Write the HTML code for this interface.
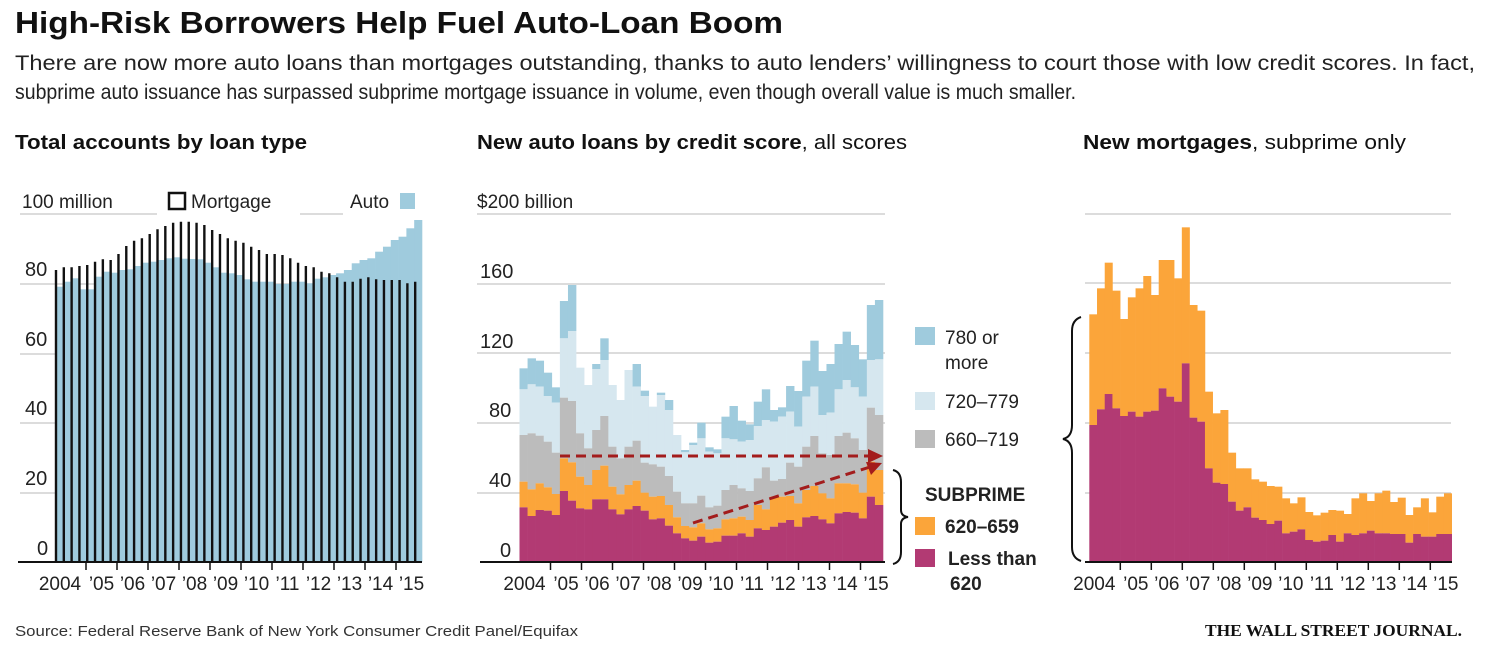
<!DOCTYPE html>
<html><head><meta charset="utf-8"><style>
body{margin:0;background:#fff;}
svg{display:block;font-family:"Liberation Sans",sans-serif;}
</style></head><body>
<svg id="s" width="1489" height="652" viewBox="0 0 1489 652" xmlns="http://www.w3.org/2000/svg">
<text x="15" y="33" font-size="31" font-weight="bold" textLength="768" lengthAdjust="spacingAndGlyphs" fill="#111">High-Risk Borrowers Help Fuel Auto-Loan Boom</text>
<text x="15" y="70" font-size="21" textLength="1460" lengthAdjust="spacingAndGlyphs" fill="#222">There are now more auto loans than mortgages outstanding, thanks to auto lenders’ willingness to court those with low credit scores. In fact,</text>
<text x="15" y="99" font-size="21" textLength="1061" lengthAdjust="spacingAndGlyphs" fill="#222">subprime auto issuance has surpassed subprime mortgage issuance in volume, even though overall value is much smaller.</text>
<text x="15" y="149" font-size="20" font-weight="bold" textLength="292" lengthAdjust="spacingAndGlyphs" fill="#111">Total accounts by loan type</text>
<text x="477" y="149" font-size="20" textLength="430" lengthAdjust="spacingAndGlyphs" fill="#111"><tspan font-weight="bold">New auto loans by credit score</tspan>, all scores</text>
<text x="1083" y="149" font-size="20" textLength="323" lengthAdjust="spacingAndGlyphs" fill="#111"><tspan font-weight="bold">New mortgages</tspan>, subprime only</text>
<text x="15" y="636" font-size="15" textLength="563" lengthAdjust="spacingAndGlyphs" fill="#333">Source: Federal Reserve Bank of New York Consumer Credit Panel/Equifax</text>
<text x="1205" y="636" font-size="17" font-weight="bold" font-family="Liberation Serif,serif" textLength="257" lengthAdjust="spacingAndGlyphs" fill="#111">THE WALL STREET JOURNAL.</text>
<g id="g"></g>
</svg>
<script>
var g=document.getElementById('g'),h='';
function R(x,y,w,hh,c){h+='<rect x="'+x+'" y="'+y+'" width="'+w+'" height="'+hh+'" fill="'+c+'"/>';}
function L(x1,y1,x2,y2,c,w,d){h+='<line x1="'+x1+'" y1="'+y1+'" x2="'+x2+'" y2="'+y2+'" stroke="'+c+'" stroke-width="'+w+'"'+(d?' stroke-dasharray="'+d+'"':'')+'/>';}
function T(x,y,s,sz,a,b){h+='<text x="'+x+'" y="'+y+'" font-size="'+(sz||19)+'" fill="#222"'+(a?' text-anchor="'+a+'"':'')+(b?' font-weight="bold"':'')+'>'+s+'</text>';}
var grid='#c8c8c8',BL='#9fcbdd',LB='#d6e7ef',GR='#bcbcbc',OR='#fba53a',PU='#b23a73';
var yrs=['2004','’05','’06','’07','’08','’09','’10','’11','’12','’13','’14','’15'];
[214,284,354,423,493].forEach(function(y,i){L(20,y,i==0?157:422,y,grid,1.3);});
L(300,214,343,214,grid,1.3);
[['80',276],['60',346],['40',415],['20',485],['0',555]].forEach(function(a){T(a[0]=='0'?37:25,a[1],a[0],20);});
T(22,208,'100 million',19);
h+='<rect x="169" y="193" width="16" height="16" fill="none" stroke="#111" stroke-width="2.5"/>';
T(191,208,'Mortgage',19);T(350,208,'Auto',19);R(400,193,15,16,BL);
var auto=[320,305,295,328,328,290,275,278,270,268,258,248,245,240,235,232,236,237,238,248,262,278,280,285,298,305,305,305,312,312,305,305,310,296,292,285,280,270,250,240,235,215,200,180,170,145,120];
var mort=[270,262,262,258,255,245,238,240,222,198,182,175,162,148,138,128,125,125,128,135,150,162,175,182,188,200,210,222,222,225,235,248,258,262,275,280,292,305,305,296,292,298,300,300,300,310,305];
var x0=55,bw=367/47;
auto.forEach(function(z,i){var y=180+z/3;R((x0+i*bw).toFixed(2),y.toFixed(1),(bw+0.3).toFixed(2),(562-y).toFixed(1),BL);});
mort.forEach(function(z,i){var y=180+z/3;L((x0+i*bw+1).toFixed(2),y.toFixed(1),(x0+i*bw+1).toFixed(2),562,'#111',2.4);});
L(18,562,422,562,'#111',2);
function xt(o,ty){for(var k=1;k<12;k++){L(o+k*31,562,o+k*31,570,'#111',1.5);}
 for(var k=0;k<12;k++){var cx=o+k*31+15.5;if(k==0)cx=o+5;T(cx,ty,yrs[k],19,'middle');}}
xt(55,590);
[214,284,353,423,493].forEach(function(y){L(477,y,885,y,grid,1.3);});
T(477,208,'$200 billion',19);
[['160',278],['120',348],['80',417],['40',487],['0',557]].forEach(function(a){T(a[0]=='0'?500:(a[0].length==3?480:489),a[1],a[0],20);});
var P=[712,738,720,722,735,663,692,715,718,688,688,718,733,718,708,722,748,745,767,790,805,812,800,818,815,797,797,790,800,775,780,770,758,750,770,742,738,748,760,730,726,728,745,680,705];
var O=[635,658,640,652,672,565,577,620,645,600,587,650,673,645,632,668,680,678,705,742,768,772,760,778,775,748,745,740,750,705,718,680,680,678,700,660,648,670,685,640,640,643,668,575,600];
var G=[495,490,497,515,548,383,393,490,535,480,438,530,565,530,512,578,583,590,618,665,700,700,677,712,707,660,645,655,663,625,592,632,627,578,590,530,498,550,555,498,488,505,540,413,435];
var LBv=[358,343,350,378,398,205,183,293,345,297,270,345,390,300,350,378,410,375,420,495,547,525,505,545,550,505,508,515,510,468,450,455,440,425,470,380,350,435,428,358,330,352,380,270,268];
var B=[295,265,272,308,352,93,45,312,352,282,205,352,392,318,282,362,415,368,390,500,540,518,458,532,538,440,408,452,463,395,358,420,412,348,363,272,212,303,282,222,185,225,268,105,90];
var n=P.length,mx=519.5,mw=363.5/n;
for(var i=0;i<n;i++){var x=(mx+i*mw).toFixed(2),w=(mw+0.3).toFixed(2);
 var yb=270+B[i]/3,yl=270+LBv[i]/3,yg=270+G[i]/3,yo=270+O[i]/3,yp=270+P[i]/3;
 R(x,yb,w,yl-yb,BL);R(x,yl,w,yg-yl,LB);R(x,yg,w,yo-yg,GR);R(x,yo,w,yp-yo,OR);R(x,yp,w,562-yp,PU);}
L(480,562,885,562,'#111',2);
xt(519.5,590);
L(560,456,872,456,'#a31c1c',3,'10,6');
h+='<polygon points="883,456 868,449 868,463" fill="#a31c1c"/>';
L(693,523,870,467,'#a31c1c',3,'10,6');
h+='<polygon points="882,463 866,462 871,475" fill="#a31c1c"/>';
h+='<path d="M893,470 q8,2 8,12 v28 q0,6 7,7 q-7,1 -7,7 v28 q0,10 -8,12" fill="none" stroke="#111" stroke-width="2"/>';
R(915,327,20,18,BL);T(945,344,'780 or',19);T(945,369,'more',19);
R(915,392,20,18,LB);T(945,408,'720–779',19);
R(915,430,20,18,GR);T(945,446,'660–719',19);
T(925,501,'SUBPRIME',19,null,1);
R(915,517,20,18,OR);T(945,533,'620–659',19,null,1);
R(915,549,20,18,PU);T(948,565,'Less than',19,null,1);T(950,590,'620',19,null,1);
[214,283,353,423,493].forEach(function(y){L(1085,y,1451,y,grid,1.3);});
var RP=[615,568,522,565,588,575,590,575,572,505,530,545,430,593,605,745,788,792,845,872,862,893,900,912,902,940,935,928,960,965,962,945,965,940,945,940,932,940,940,942,942,968,942,950,950,942,942];
var RO=[283,205,128,212,297,232,205,168,225,120,120,175,22,255,272,515,580,570,698,745,745,778,785,798,800,835,850,832,876,886,878,870,872,882,835,820,843,820,812,846,833,885,862,835,877,830,820];
var rx=1089.3,rw=362.4/47;
for(var i=0;i<47;i++){var x=(rx+i*rw).toFixed(2),w=(rw+0.3).toFixed(2);var yo=220+RO[i]/3,yp=220+RP[i]/3;R(x,yo,w,yp-yo,OR);R(x,yp,w,562-yp,PU);}
L(1085,562,1452,562,'#111',2);
xt(1089.3,590);
h+='<path d="M1081,317 q-9,3 -9,14 v94 q0,12 -9,14 q9,2 9,14 v94 q0,11 9,14" fill="none" stroke="#111" stroke-width="2"/>';
g.innerHTML=h;
</script>
</body></html>
